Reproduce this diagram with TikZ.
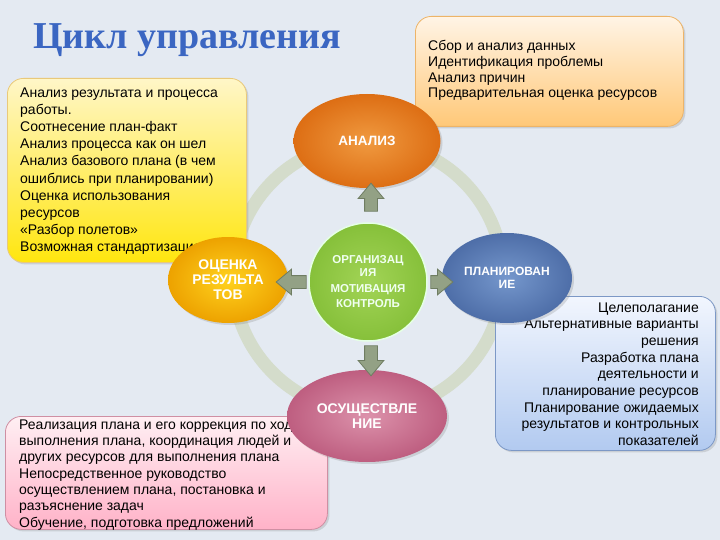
\documentclass[tikz,border=0pt]{standalone}
\usepackage{fontspec}
\setmainfont{Liberation Sans}
\newfontfamily\titlefont{Liberation Serif}
\usetikzlibrary{shapes.geometric,shapes.arrows,shadows}
\definecolor{bg}{HTML}{E4EAF2}
\definecolor{titleblue}{HTML}{3B66C2}
\definecolor{ringcol}{HTML}{D4DCCB}
\definecolor{ytop}{HTML}{FFF6C8}
\definecolor{ybot}{HTML}{FFE60F}
\definecolor{yedge}{HTML}{E9C97A}
\definecolor{otop}{HTML}{FFF4E6}
\definecolor{obot}{HTML}{FFC878}
\definecolor{oedge}{HTML}{EDB468}
\definecolor{btop}{HTML}{F2F6FE}
\definecolor{bbot}{HTML}{B2CAF0}
\definecolor{bedge}{HTML}{7C98C6}
\definecolor{ptop}{HTML}{FFEFF3}
\definecolor{pbot}{HTML}{FFB2C8}
\definecolor{pedge}{HTML}{CF8FA3}
\definecolor{anin}{HTML}{F09A40}
\definecolor{anout}{HTML}{DD6E14}
\definecolor{plin}{HTML}{7597CC}
\definecolor{plout}{HTML}{4E6EA8}
\definecolor{exin}{HTML}{DC92AB}
\definecolor{exout}{HTML}{BE5E80}
\definecolor{evin}{HTML}{FFD21E}
\definecolor{evout}{HTML}{EDA200}
\definecolor{grin}{HTML}{A2D456}
\definecolor{grout}{HTML}{86C03A}
\definecolor{arrfill}{HTML}{93A185}
\definecolor{arredge}{HTML}{6F7D62}
\tikzset{
  textbox/.style={rounded corners=16pt, line width=0.8pt, inner sep=0,
    anchor=north west, drop shadow={opacity=0.25, shadow xshift=2pt, shadow yshift=-2pt}},
  boxtext/.style={inner sep=0, font=\fontsize{14}{17.1}\selectfont},
  ell/.style={ellipse, inner sep=0, text=white, align=center,
    font=\bfseries\fontsize{14}{15}\selectfont,
    drop shadow={opacity=0.25, shadow xshift=2pt, shadow yshift=-2pt}},
  blockarr/.style={single arrow, draw=arredge, fill=arrfill, line width=0.8pt,
    inner sep=0, text width=0pt, text height=6pt, text depth=6pt,
    single arrow head extend=6.5pt, single arrow tip angle=80},
}
\begin{document}
\begin{tikzpicture}[x=1pt,y=-1pt]
\fill[bg] (0,0) rectangle (720,540);
\useasboundingbox (0,0) rectangle (720,540);

\node[anchor=base west, inner sep=0, text=titleblue,
  font=\titlefont\bfseries\fontsize{38}{44}\selectfont] (title) at (33,49) {Цикл управления};

% ring
\draw[ringcol, line width=13pt] (368,277) circle[radius=135];

% text boxes
\node[textbox, draw=yedge, top color=ytop, bottom color=ybot,
  minimum width=239, minimum height=184] (ybox) at (7,78) {};
\node[boxtext, anchor=base west, align=left] (ytext) at (20,251.4)
 {Анализ результата и процесса\\работы.\\Соотнесение план-факт\\Анализ процесса как он шел\\Анализ базового плана (в чем\\ошиблись при планировании)\\Оценка использования\\ресурсов\\«Разбор полетов»\\Возможная стандартизация};

\node[textbox, draw=oedge, top color=otop, bottom color=obot,
  minimum width=268, minimum height=110] (obox) at (415,16) {};
\node[boxtext, anchor=base west, align=left, font=\fontsize{14}{15.8}\selectfont] (otext) at (428,98)
 {Сбор и анализ данных\\Идентификация проблемы\\Анализ причин\\Предварительная оценка ресурсов};

\node[textbox, draw=bedge, top color=btop, bottom color=bbot,
  minimum width=220, minimum height=154] (bbox) at (495,296) {};
\node[boxtext, anchor=base east, align=right, font=\fontsize{14}{16.7}\selectfont] (btext) at (699,445.6)
 {Целеполагание\\Альтернативные варианты\\решения\\Разработка плана\\деятельности и\\планирование ресурсов\\Планирование ожидаемых\\результатов и контрольных\\показателей};

\node[textbox, draw=pedge, top color=ptop, bottom color=pbot,
  minimum width=322, minimum height=113] (pbox) at (5,416) {};
\node[boxtext, anchor=base west, align=left, font=\fontsize{14}{16.3}\selectfont] (ptext) at (19,527)
 {Реализация плана и его коррекция по ходу\\выполнения плана, координация людей и\\других ресурсов для выполнения плана\\Непосредственное руководство\\осуществлением плана, постановка и\\разъяснение задач\\Обучение, подготовка предложений};

% ellipses
\node[ell, inner color=anin, outer color=anout, minimum width=147, minimum height=94,
  font=\bfseries\fontsize{13.5}{15}\selectfont] (analiz) at (367,141) {АНАЛИЗ};
\node[ell, inner color=plin, outer color=plout, minimum width=130, minimum height=90,
  font=\bfseries\fontsize{12}{12.5}\selectfont] (plan) at (507,278) {ПЛАНИРОВАН\\ИЕ};
\node[ell, inner color=exin, outer color=exout, minimum width=160, minimum height=92] (osush) at (367,416) {ОСУЩЕСТВЛЕ\\НИЕ};
\node[ell, inner color=evin, outer color=evout, minimum width=120, minimum height=86] (ocenka) at (228,280) {ОЦЕНКА\\РЕЗУЛЬТА\\ТОВ};

% arrows
\node[blockarr, minimum height=28, rotate=90] (aup) at (371,201) {};
\node[blockarr, minimum height=30, rotate=-90] (adown) at (371,357) {};
\node[blockarr, minimum height=30, rotate=180] (aleft) at (295,282) {};
\node[blockarr, minimum height=22] (aright) at (438,282) {};

% centre
\node[circle, inner sep=0, minimum size=118, draw=white!90!green, line width=1.5pt,
  inner color=grin, outer color=grout, text=white!94!green, align=center,
  font=\bfseries\fontsize{11.5}{13}\selectfont] (centre) at (368,282)
  {ОРГАНИЗАЦ\\ИЯ\\[3pt]МОТИВАЦИЯ\\[2pt]КОНТРОЛЬ};
\end{tikzpicture}
\end{document}
